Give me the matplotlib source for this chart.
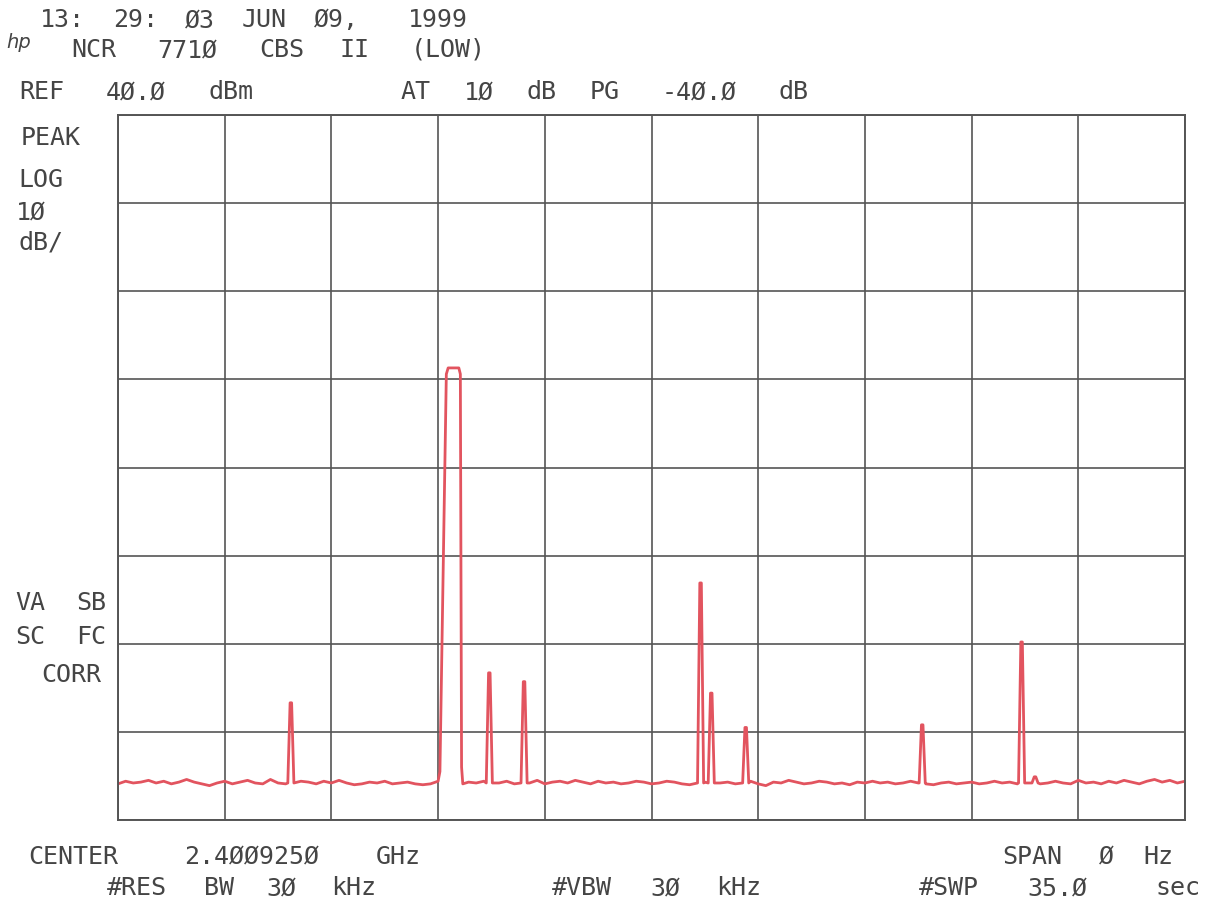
import numpy as np
import matplotlib.pyplot as plt

# spectrum analyser settings (zero span, time domain)
ref_level = 40.0
db_per_div = 10.0
sweep_time = 35.0

# noise floor, one reading every 0.25 s
noise_db = [
    -35.9, -35.6, -35.8, -35.7, -35.5, -35.8, -35.6, -35.9, -35.7, -35.4,
    -35.7, -35.9, -36.1, -35.8, -35.6, -35.9, -35.7, -35.5, -35.8, -35.9,
    -35.4, -35.8, -35.9, -35.8, -35.6, -35.7, -35.9, -35.6, -35.8, -35.5,
    -35.8, -36.0, -35.9, -35.7, -35.8, -35.6, -35.9, -35.8, -35.7, -35.9,
    -36.0, -35.9, -35.7, -35.6, -35.8, -35.9, -35.7, -35.8, -35.6, -35.9,
    -35.8, -35.6, -35.9, -35.7, -35.8, -35.5, -35.9, -35.7, -35.6, -35.8,
    -35.5, -35.7, -35.9, -35.6, -35.8, -35.7, -35.9, -35.8, -35.6, -35.7,
    -35.9, -35.8, -35.6, -35.7, -35.9, -36.0, -35.8, -35.7, -35.9, -35.8,
    -35.7, -35.9, -35.8, -35.6, -35.9, -36.1, -35.7, -35.8, -35.5, -35.7,
    -35.9, -35.8, -35.6, -35.7, -35.9, -35.8, -36.0, -35.7, -35.8, -35.6,
    -35.8, -35.7, -35.9, -35.8, -35.6, -35.8, -35.9, -36.0, -35.8, -35.7,
    -35.9, -35.8, -35.7, -35.9, -35.8, -35.6, -35.8, -35.7, -35.9, -35.8,
    -35.7, -35.9, -35.8, -35.6, -35.8, -35.9, -35.5, -35.8, -35.7, -35.9,
    -35.6, -35.8, -35.5, -35.7, -35.9, -35.6, -35.4, -35.7, -35.5, -35.8,
    -35.6,
]

# main burst
pulse_t = [10.50, 10.56, 10.77, 10.83, 11.18, 11.23, 11.27, 11.31]
pulse_db = [-35.6, -34.5, 10.6, 11.3, 11.3, 10.6, -34.0, -35.9]

# narrow spurs
spur_t = [5.67, 12.18, 13.32, 19.11, 19.46, 20.59, 26.38, 29.64, 30.08]
spur_db = [-26.7, -23.3, -24.3, -13.1, -25.6, -29.5, -29.2, -19.8, -35.1]

# build trace
noise_t = np.linspace(0, sweep_time, len(noise_db))
noise_v = np.array(noise_db)
keep = ~((noise_t >= pulse_t[0]) & (noise_t <= pulse_t[-1]))
for st in spur_t:
    keep &= np.abs(noise_t - st) > 0.12
tt = list(noise_t[keep]) + pulse_t
vv = list(noise_v[keep]) + pulse_db
for st, sv in zip(spur_t, spur_db):
    tt += [st - 0.1, st - 0.025, st + 0.025, st + 0.1]
    vv += [-35.8, sv, sv, -35.8]
order = np.argsort(tt)
tt = np.array(tt)[order]
vv = np.array(vv)[order]

W, H = 1220, 910
fig = plt.figure(figsize=(12.2, 9.1), dpi=100)
ax = fig.add_axes([118 / W, 1 - 820 / H, (1185 - 118) / W, (820 - 115) / H])

grid_c = '#555555'
ax.plot(tt, vv, color='#e2545f', lw=2.0)
ax.set_xlim(0, sweep_time)
ax.set_ylim(ref_level - 8 * db_per_div, ref_level)
ax.set_xticks(np.linspace(0, sweep_time, 11))
ax.set_yticks(np.arange(ref_level - 8 * db_per_div, ref_level + 1, db_per_div))
ax.tick_params(length=0, labelbottom=False, labelleft=False)
ax.grid(True, color=grid_c, lw=1.2)
for s in ax.spines.values():
    s.set_color(grid_c)
    s.set_linewidth(1.4)

txt_c = '#454545'
FS = 18


def grid_text(s, x0, y, pitch):
    # place each word on the plotter's fixed character grid
    i = 0
    for word in s.split(' '):
        if word:
            cx = x0 + (i + len(word) / 2) * pitch
            fig.text(cx / W, 1 - y / H, word, ha='center', va='center',
                     family='DejaVu Sans Mono', fontsize=FS, color=txt_c)
        i += len(word) + 1


grid_text('13: 29: Ø3 JUN Ø9,  1999', 35, 20, 18.3)
grid_text('NCR 771Ø CBS II (LOW)', 62, 50, 20.9)
grid_text('REF 4Ø.Ø dBm', 10, 92, 21)
grid_text('AT 1Ø dB PG -4Ø.Ø dB', 395, 92, 21)
grid_text('PEAK', 10, 138, 20.5)
grid_text('LOG', 10, 180, 20.5)
grid_text('1Ø', 10, 212, 20.5)
grid_text('dB/', 10, 243, 20.5)
grid_text('VA SB', 10, 603, 20.4)
grid_text('SC FC', 10, 637, 20.4)
grid_text('CORR', 30, 675, 20.5)
grid_text('CENTER 2.4ØØ925Ø GHz', 10, 857, 21)
grid_text('SPAN Ø Hz', 990, 857, 21.1)
grid_text('#RES BW 3Ø kHz', 95, 888, 20.7)
grid_text('#VBW 3Ø kHz', 540, 888, 20.9)
grid_text('#SWP 35.Ø  sec', 905, 888, 21.8)

fig.text(6 / W, 1 - 42 / H, 'hp', style='italic', fontsize=14, color=txt_c,
         va='center', ha='left')

fig.savefig('out.png', dpi=100, facecolor='white')
